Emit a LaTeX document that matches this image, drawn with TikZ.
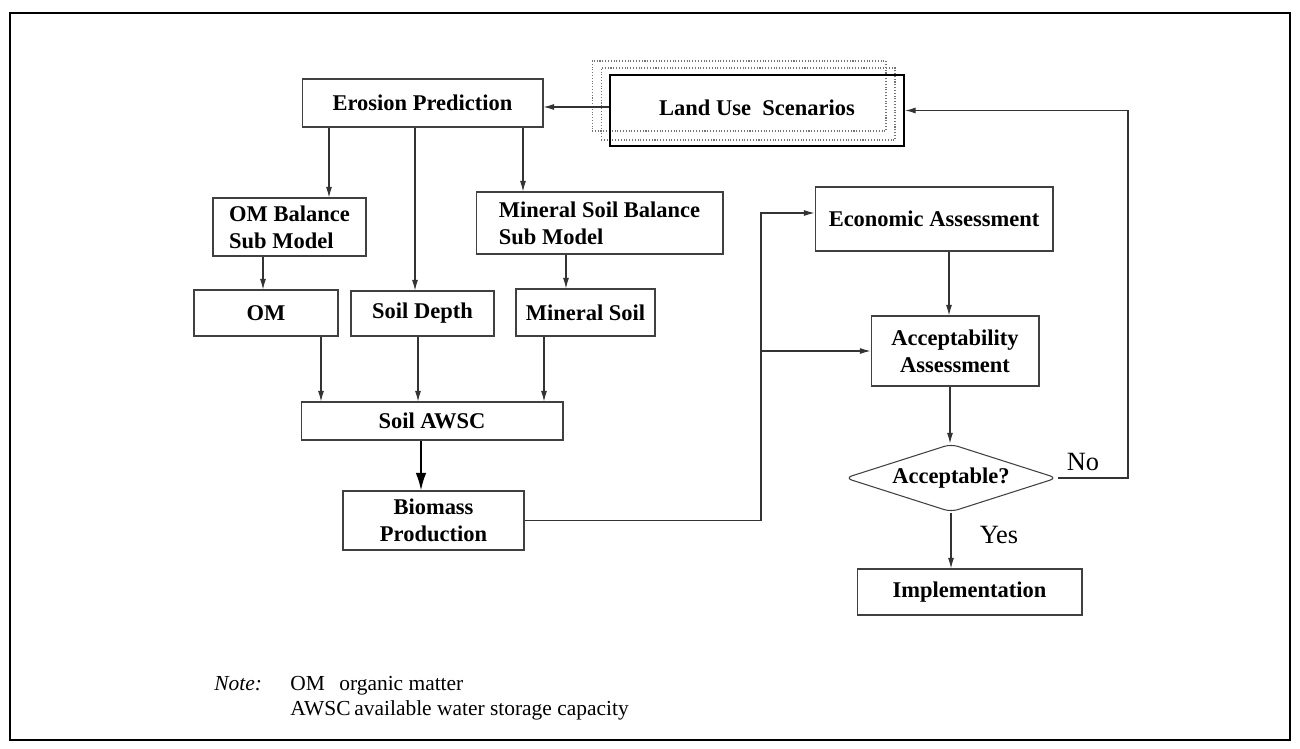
\documentclass[tikz,border=0pt]{standalone}
\usepackage{fontspec}
\setmainfont{Liberation Serif}
\usetikzlibrary{shapes.geometric,arrows.meta}
\tikzstyle{pbox}=[shape=rectangle, draw=black!75, line width=0.6pt,
                  font=\bfseries, inner sep=2pt]
\tikzstyle{lbox}=[shape=rectangle, draw=black, line width=1.3pt,
                  font=\bfseries]
\tikzstyle{sbox}=[shape=rectangle, draw=black!55, densely dotted,
                  line width=0.6pt]
\tikzstyle{qbox}=[shape=diamond, draw=black!75, line width=0.6pt,
                  aspect=3.1, rounded corners=4pt, inner sep=1pt, font=\bfseries]
\tikzstyle{conn}=[->, draw=black!80, line width=0.6pt]
\tikzstyle{bigconn}=[-{Latex[length=10pt,width=6pt]}, draw=black, line width=1pt]
\tikzstyle{note}=[anchor=base west, inner sep=0pt, font=\fontsize{12.2}{14}\selectfont]

\begin{document}
\begin{tikzpicture}[>={Latex[length=6pt,width=3.4pt]}, x=0.02cm, y=-0.02cm]
\fontsize{12.8}{15.5}\selectfont

% frame
\useasboundingbox (0,0) rectangle (1300,749);
\draw[line width=1.3pt] (10,13) rectangle (1290,740);

% nodes
\node[sbox, minimum width=5.88cm, minimum height=1.40cm] (sh1) at (739,96) {};
\node[sbox, minimum width=5.88cm, minimum height=1.44cm] (sh2) at (748,104) {};
\node[lbox, minimum width=5.88cm, minimum height=1.42cm] (land) at (757,110.5) {\raisebox{3pt}{Land Use\ \ Scenarios}};
\node[pbox, minimum width=4.82cm, minimum height=0.96cm] (eros) at (422.5,103) {Erosion Prediction};
\node[pbox, minimum width=3.06cm, minimum height=1.16cm, align=left] (omb) at (289.5,227) {OM Balance\\Sub Model};
\node[pbox, minimum width=4.94cm, minimum height=1.24cm, align=left] (msb) at (599.5,223) {Mineral Soil Balance\\Sub Model};
\node[pbox, minimum width=2.88cm, minimum height=0.92cm] (om) at (266,313) {OM};
\node[pbox, minimum width=2.86cm, minimum height=0.90cm] (sd) at (422.5,313.5) {Soil Depth};
\node[pbox, minimum width=2.78cm, minimum height=0.94cm] (ms) at (585.5,312.5) {Mineral Soil};
\node[pbox, minimum width=5.24cm, minimum height=0.76cm] (awsc) at (432,421) {Soil AWSC};
\node[pbox, minimum width=3.62cm, minimum height=1.18cm, align=center] (bio) at (433.5,520.5) {Biomass\\Production};
\node[pbox, minimum width=4.76cm, minimum height=1.28cm] (econ) at (934,219) {Economic Assessment};
\node[pbox, minimum width=3.36cm, minimum height=1.40cm, align=center] (acc) at (955,351) {Acceptability\\Assessment};
\node[qbox, minimum width=4.24cm, minimum height=1.36cm] (dec) at (951,478) {Acceptable?};
\node[pbox, minimum width=4.50cm, minimum height=0.92cm] (impl) at (969.5,592) {Implementation};
\node[font=\fontsize{15}{17}\selectfont] (no) at (1083,462) {No};
\node[font=\fontsize{15}{17}\selectfont] (yes) at (999,535) {Yes};
\coordinate (jb) at (761,0);
\coordinate (jr) at (1128,0);
\coordinate (ea) at ([yshift=0.12cm]econ.west);

% paths
\draw[conn] (land.west |- 0,107) -- (eros.east |- 0,107);
\draw[conn] (eros.south -| 329,0) -- (omb.north -| 329,0);
\draw[conn] (eros.south -| 415,0) -- (sd.north -| 415,0);
\draw[conn] (eros.south -| 523,0) -- (msb.north -| 523,0);
\draw[conn] (omb.south -| 263,0) -- (om.north -| 263,0);
\draw[conn] (msb.south -| 566,0) -- (ms.north -| 566,0);
\draw[conn] (om.south -| 321,0) -- (awsc.north -| 321,0);
\draw[conn] (sd.south -| 418,0) -- (awsc.north -| 418,0);
\draw[conn] (ms.south -| 544,0) -- (awsc.north -| 544,0);
\draw[bigconn] (awsc.south -| 421,0) -- (bio.north -| 421,0);
\draw[conn] (bio.east) -- (bio.east -| jb) -- (jb |- ea) -- (ea);
\draw[conn] (jb |- acc.west) -- (acc.west);
\draw[conn] (econ.south -| 949,0) -- (acc.north -| 949,0);
\draw[conn] (acc.south -| 950,0) -- (dec.north -| 950,0);
\draw[conn] (dec.east) -- (dec.east -| jr) -- (jr |- land.east) -- (land.east);
\draw[conn] (dec.south) -- (impl.north -| dec.south);

% note
\node[note] (nt) at (214,690) {\itshape Note:};
\node[note] (ab1) at (290,690) {OM};
\node[note] (tx1) at (339,690) {organic matter};
\node[note] (ab2) at (290,715) {AWSC};
\node[note] (tx2) at (354,715) {available water storage capacity};

\end{tikzpicture}
\end{document}
